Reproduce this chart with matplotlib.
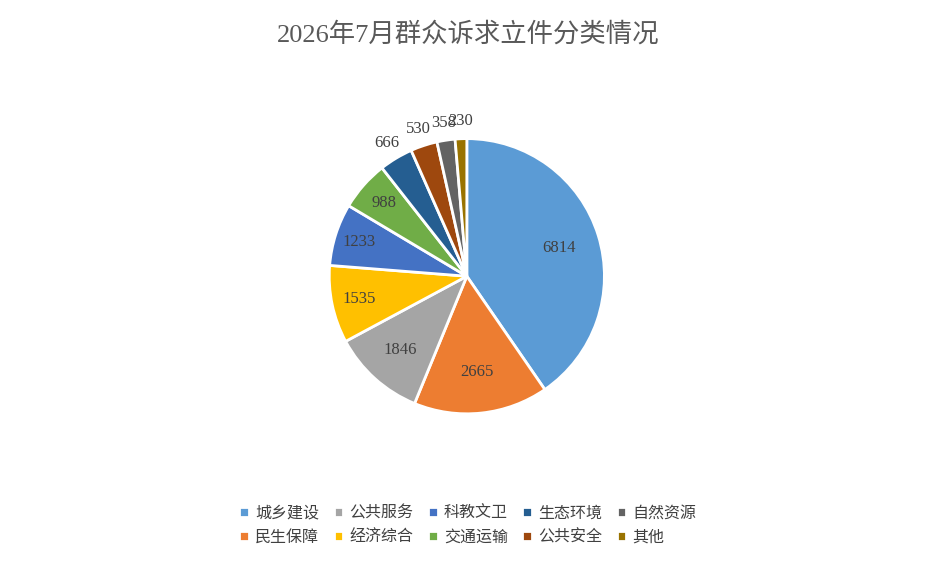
import matplotlib
matplotlib.use("Agg")
from matplotlib import pyplot as plt
import numpy as np

plt.rcParams['font.family'] = ['Liberation Serif', 'Noto Sans CJK SC']

categories = ["城乡建设", "民生保障", "公共服务", "经济综合", "科教文卫",
              "交通运输", "生态环境", "公共安全", "自然资源", "其他"]
values = [6814, 2665, 1846, 1535, 1233, 988, 666, 530, 358, 230]
colors = ["#5B9BD5", "#ED7D31", "#A5A5A5", "#FFC000", "#4472C4",
          "#70AD47", "#255E91", "#9E480E", "#636363", "#997300"]

fig = plt.figure(figsize=(9.36, 5.71), dpi=100)
ax = fig.add_axes([0.315, 0.215, 0.3675, 0.6025])
wedges, _ = ax.pie(values, colors=colors, startangle=90, counterclock=False,
                   wedgeprops=dict(edgecolor="white", linewidth=2))

# label radii: inside for big slices, outside for the small ones
radii = [0.70, 0.70, 0.72, 0.80, 0.82, 0.80, 1.13, 1.13, 1.13, 1.13]
for w, v, r in zip(wedges, values, radii):
    ang = np.deg2rad((w.theta1 + w.theta2) / 2)
    ax.text(r * np.cos(ang), r * np.sin(ang), str(v), ha="center", va="center",
            fontsize=12, color="#404040")
ax.set_aspect("equal")

fig.text(0.5, 0.94, "2026年7月群众诉求立件分类情况", ha="center", va="center",
         fontsize=19, color="#595959")
fig.legend(wedges, categories, loc="center", bbox_to_anchor=(0.5, 0.08), ncol=5,
           frameon=False, fontsize=11.5, handlelength=0.6, handleheight=0.6,
           columnspacing=0.9, handletextpad=0.4, labelspacing=0.5,
           labelcolor="#404040")
fig.savefig("out.png", dpi=100)
